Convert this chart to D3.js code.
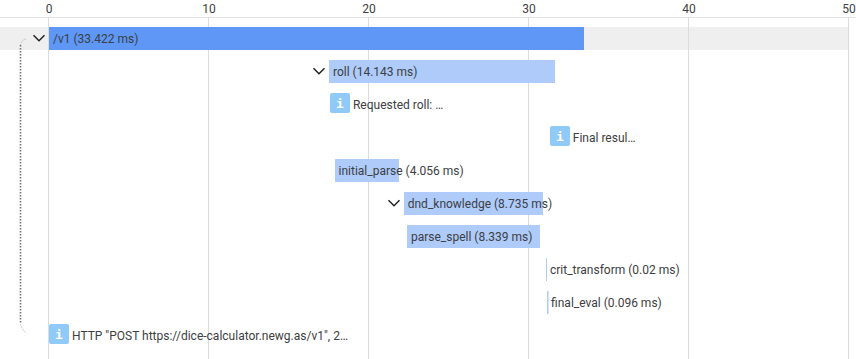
<!DOCTYPE html>
<html><head><meta charset="utf-8">
<script src="https://cdn.jsdelivr.net/npm/d3@7"></script>
<style>html,body{margin:0;padding:0;background:#fff}svg{display:block;font-family:Roboto,sans-serif}</style>
</head><body><svg id="c" width="856" height="359"></svg>
<script>
const tickValues=[0,10,20,30,40,50];
const spanNames=["/v1","roll","Requested roll: …","Final resul…","initial_parse","dnd_knowledge","parse_spell","crit_transform","final_eval","HTTP \"POST https://dice-calculator.newg.as/v1\", 2…"];
const spanKinds=["root","span","log","log","span","span","span","span","span","log"];
const spanStarts=[0,17.5,17.56,31.3,17.845,22.17,22.37,31.06,31.13,0];
const spanDurations=[33.422,14.143,null,null,4.056,8.735,8.339,0.02,0.096,null];
const expandable=[true,true,false,false,false,true,false,false,false,false];
const rowIndex=d3.range(spanNames.length);

const svg=d3.select("#c");
const x=d3.scaleLinear().domain([0,50]).range([48.5,848.5]);
const y=d3.scalePoint().domain(rowIndex).range([27,324]);
const barH=23;
const rowY=i=>y(i);

svg.append("rect").attr("x",0).attr("y",rowY(0)).attr("width",x(50)).attr("height",barH).attr("fill","#efefef");

const axis=d3.axisTop(x).tickValues(tickValues).tickSize(0).tickPadding(5).tickFormat(d3.format("d"));
const ag=svg.append("g").attr("transform","translate(0,17.5)").call(axis);
ag.select(".domain").attr("stroke","#e0e0e0").attr("d","M0,0H856");
ag.selectAll("text").attr("font-size",12).attr("fill","#3c4043").attr("font-family","Roboto");
svg.append("g").selectAll("line").data(tickValues).join("line")
 .attr("x1",x).attr("x2",x).attr("y1",18).attr("y2",359).attr("stroke","#dcdcdc");
svg.append("rect").attr("x",0).attr("y",rowY(0)).attr("width",48).attr("height",barH).attr("fill","#efefef");

// connector: dark dotted stem with faint curved ends
svg.append("path").attr("d",`M20.5,${rowY(0)+18}V${rowY(9)+0}`)
 .attr("fill","none").attr("stroke","#757575").attr("stroke-width",1.6).attr("stroke-dasharray","1.6 1.4");
svg.append("path").attr("d",`M26,${rowY(0)+12}Q21.5,${rowY(0)+13} 20.5,${rowY(0)+18}`)
 .attr("fill","none").attr("stroke","#bdbdbd").attr("stroke-width",1).attr("stroke-dasharray","1.5 1");
svg.append("path").attr("d",`M20.5,${rowY(9)+0}Q21,${rowY(9)+4} 26,${rowY(9)+9}`)
 .attr("fill","none").attr("stroke","#bdbdbd").attr("stroke-width",1).attr("stroke-dasharray","1.5 1");

const rows=svg.append("g").selectAll("g").data(rowIndex).join("g");
rows.each(function(i){
  const g=d3.select(this), left=x(spanStarts[i])+0.5, px=Math.round(left), top=rowY(i);
  if(spanKinds[i]==="log"){
    g.append("rect").attr("x",px).attr("y",top).attr("width",20).attr("height",20).attr("rx",2).attr("fill","#90caf9");
    g.append("text").attr("x",px+10).attr("y",top+15).attr("text-anchor","middle").attr("font-size",13).attr("font-weight",700)
     .attr("font-family","DejaVu Sans Mono").attr("fill","#fff").text("i");
    g.append("text").attr("x",left+23).attr("y",top+16).attr("font-size",12).attr("fill","#3c4043").text(spanNames[i]);
  } else {
    const raw=x(spanDurations[i])-x(0);
    const w=raw<2?Math.max(raw,1):Math.round(left+raw)-px;
    g.append("rect").attr("x",px).attr("y",top).attr("width",w).attr("height",barH)
     .attr("fill",spanKinds[i]==="root"?"#5e97f6":"#aecbfa");
    g.append("text").attr("x",left+4).attr("y",top+16).attr("font-size",12).attr("fill","#3c4043")
     .text(`${spanNames[i]} (${spanDurations[i]} ms)`);
    if(expandable[i]){
      const c=px-10;
      g.append("path").attr("d",`M${c-5.5},${top+8.2}L${c},${top+13.7}L${c+5.5},${top+8.2}`).attr("fill","none").attr("stroke","#202124").attr("stroke-width",1.5);
    }
  }
});
</script></body></html>
